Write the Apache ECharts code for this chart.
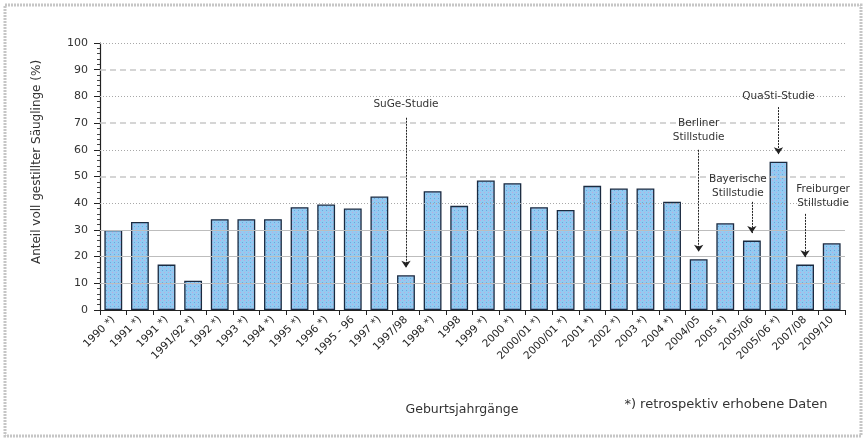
<!DOCTYPE html>
<html><head><meta charset="utf-8">
<script src="https://cdn.jsdelivr.net/npm/echarts@6/dist/echarts.min.js"></script>
<style>html,body{margin:0;padding:0;background:#fff}#c{width:866px;height:440px}</style>
</head><body><div id="c"></div>
<script>
const categories = ['1990 *)','1991 *)','1991 *)','1991/92 *)','1992 *)','1993 *)','1994 *)','1995 *)','1996 *)','1995 - 96','1997 *)','1997/98','1998 *)','1998','1999 *)','2000 *)','2000/01 *)','2000/01 *)','2001 *)','2002 *)','2003 *)','2004 *)','2004/05','2005 *)','2005/06','2005/06 *)','2007/08','2009/10'];
const values = [30,33,17,11,34,34,34,38.5,39.5,38,42.5,13,44.5,39,48.5,47.5,38.5,37.5,46.5,45.5,45.5,40.5,19,32.5,26,55.5,17,25];
const solidLevels = [10,20,30];
const dottedLevels = [40,60,80,100];
const dashedLevels = [50,70,90];
const annIndex = [11,22,24,25,26];
const annText = ['SuGe-Studie','Berliner\nStillstudie','Bayerische\nStillstudie','QuaSti-Studie','Freiburger\nStillstudie'];
// layout of annotations (value-axis units for arrow start / text centre, pixel x-shift of text)
const annArrowTop = [72,60,40.5,76,36];
const annTextAt = [77,67.5,46.5,80,42.7];
const annTextDx = [0,0,-14,0,18];

const FONT = 'DejaVu Sans';
const pc = document.createElement('canvas'); pc.width = 4; pc.height = 4;
const g = pc.getContext('2d');
g.fillStyle = '#93caf1'; g.fillRect(0,0,4,4);
g.fillStyle = '#c2a9dc'; g.fillRect(0,0,1,1);
g.fillStyle = '#6aa7e0'; g.fillRect(2,2,1,1);

const gridLines = [].concat(
  solidLevels.map(v => ({yAxis: v, lineStyle: {type: 'solid', color: '#bdbdbd', width: 1}})),
  dottedLevels.map(v => ({yAxis: v, lineStyle: {type: [1,2], color: '#a8a8a8', width: 1}})),
  dashedLevels.map(v => ({yAxis: v, lineStyle: {type: [6,4], color: '#c8c8c8', width: 1.5}}))
);

const arrows = annIndex.map((idx,i) => [
  {coord: [idx, annArrowTop[i]]},
  {coord: [idx, values[idx] + 2.8]}
]);
const annLabels = annIndex.map((idx,i) => ({
  coord: [idx, annTextAt[i]],
  label: {show: true, formatter: annText[i], offset: [annTextDx[i], 0]}
}));

const chart = echarts.init(document.getElementById('c'));
chart.setOption({
  backgroundColor: '#fff',
  animation: false,
  grid: {left: 100, right: 21, top: 43, bottom: 130},
  xAxis: {
    type: 'category', data: categories,
    axisLine: {lineStyle: {color: '#222', width: 1}},
    axisTick: {show: true, length: 5, lineStyle: {color: '#222'}},
    axisLabel: {rotate: 45, interval: 0, fontFamily: FONT, fontSize: 10.5, color: '#222', margin: 8}
  },
  yAxis: {
    type: 'value', min: 0, max: 100, interval: 10,
    axisLine: {show: true, lineStyle: {color: '#222', width: 1.2}},
    axisTick: {show: true, length: 6, lineStyle: {color: '#222'}},
    minorTick: {show: true, splitNumber: 5, length: 3, lineStyle: {color: '#444'}},
    splitLine: {show: false},
    axisLabel: {fontFamily: FONT, fontSize: 11, color: '#333', margin: 12}
  },
  series: [
    {
      type: 'line', data: [], silent: true, z: 1,
      markLine: {silent: true, symbol: 'none', label: {show: false}, data: gridLines, animation: false}
    },
    {
      type: 'bar', data: values, z: 3, barCategoryGap: '33%',
      itemStyle: {color: {image: pc, repeat: 'repeat'}, borderColor: '#1a2a40', borderWidth: 1.3},
      markLine: {
        silent: true, symbol: ['none','arrow'], symbolSize: 7,
        label: {show: false},
        lineStyle: {type: [2,1], color: '#222', width: 1},
        data: arrows, animation: false
      },
      markPoint: {
        silent: true, symbol: 'circle', symbolSize: 0,
        label: {fontFamily: FONT, fontSize: 10.5, color: '#333', lineHeight: 14, position: 'inside'},
        data: annLabels, animation: false
      }
    }
  ],
  graphic: [
    {type: 'rect', shape: {x: 5, y: 5, width: 856, height: 431},
     style: {fill: 'none', stroke: '#c6c6c6', lineWidth: 3, lineDash: [2,1]}, silent: true},
    {type: 'text', x: 37, y: 162, rotation: Math.PI/2,
     style: {text: 'Anteil voll gestillter Säuglinge (%)', fontFamily: FONT, fontSize: 12, fill: '#333', align: 'center', verticalAlign: 'middle'}},
    {type: 'text', x: 462, y: 410,
     style: {text: 'Geburtsjahrgänge', fontFamily: FONT, fontSize: 12.5, fill: '#333', align: 'center', verticalAlign: 'middle'}},
    {type: 'text', x: 726, y: 405,
     style: {text: '*) retrospektiv erhobene Daten', fontFamily: FONT, fontSize: 13, fill: '#333', align: 'center', verticalAlign: 'middle'}}
  ]
});
</script></body></html>
